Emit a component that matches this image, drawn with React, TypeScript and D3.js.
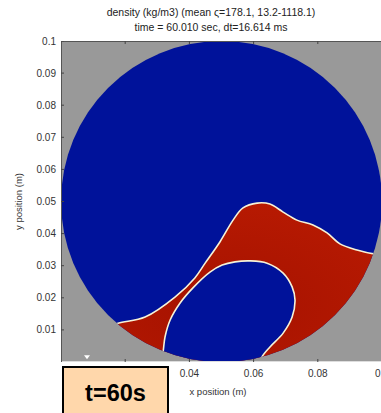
import React from "react";
import * as d3 from "d3";

const titleLines = [
  "density (kg/m3) (mean \u03C2=178.1, 13.2-1118.1)",
  "time = 60.010 sec, dt=16.614 ms",
];
const yTicks = [0.01, 0.02, 0.03, 0.04, 0.05, 0.06, 0.07, 0.08, 0.09, 0.1];
const yTickLabels = ["0.01", "0.02", "0.03", "0.04", "0.05", "0.06", "0.07", "0.08", "0.09", "0.1"];
const xTickMarks = [0.02, 0.04, 0.06, 0.08];
const xTicks = [0.04, 0.06, 0.08, 0.1];
const xTickLabels = ["0.04", "0.06", "0.08", "0.1"];
const domainCenter: [number, number] = [0.05, 0.05];
const domainRadius = 0.05;

// red (dense) fluid upper interface, left to right (m)
const upperInterface: [number, number][] = [
  [0.0137, 0.0106], [0.0178, 0.0121], [0.0262, 0.014], [0.0355, 0.0202],
  [0.0417, 0.0262], [0.0449, 0.0308], [0.0495, 0.0374], [0.0536, 0.0442],
  [0.0567, 0.048], [0.0611, 0.0495], [0.0651, 0.0492], [0.0692, 0.0467],
  [0.0735, 0.0442], [0.0785, 0.0427], [0.0829, 0.0402], [0.0869, 0.0368],
  [0.0922, 0.0349], [0.0978, 0.0336], [0.1031, 0.033],
];
// trapped light bubble near bottom (m)
const bubble: [number, number][] = [
  [0.0308, -0.0019], [0.0318, 0.0031], [0.0324, 0.0078], [0.034, 0.0131],
  [0.0371, 0.0184], [0.0411, 0.0231], [0.0464, 0.028], [0.0502, 0.0302],
  [0.0542, 0.0312], [0.0589, 0.0315], [0.0642, 0.0308], [0.0692, 0.0277],
  [0.072, 0.0234], [0.0729, 0.0193], [0.072, 0.014], [0.0692, 0.009],
  [0.0651, 0.0047], [0.0626, 0.0016], [0.0614, -0.0019],
];
const markerPoint: [number, number] = [0.0081, 0.0012];

export default function App() {
  const W = 381, H = 413;
  const x = d3.scaleLinear().domain([0, 0.1]).range([61, 382]);
  const y = d3.scaleLinear().domain([0, 0.1]).range([362, 41]);
  const font = "'Liberation Sans', Arial, sans-serif";

  const line = d3.line<[number, number]>().x(d => x(d[0])).y(d => y(d[1])).curve(d3.curveCatmullRom);
  const upperPath = line(upperInterface) as string;
  const redPath = upperPath + `L${x(0.11)},${y(-0.01)}L${x(0.0)},${y(-0.01)}L${x(0)},${y(0.0106)}Z`;
  const bubblePath = line(bubble) as string;
  const bubbleFill = bubblePath + `Z`;

  const cx = x(domainCenter[0]);
  const cy = y(domainCenter[1]);
  const r = x(domainRadius) - x(0);

  const mx = x(markerPoint[0]), my = y(markerPoint[1]);

  return (
    <svg width={W} height={H} style={{ position: "absolute", left: 0, top: 0 }}>
      <defs>
        <clipPath id="plotClip">
          <rect x={61} y={41} width={W - 61} height={321} />
        </clipPath>
        <clipPath id="circClip">
          <circle cx={cx} cy={cy} r={r} />
        </clipPath>
        <radialGradient id="redGrad" cx="0.45" cy="0.55" r="0.6">
          <stop offset="0" stopColor="#a51200" />
          <stop offset="1" stopColor="#b81a02" />
        </radialGradient>
      </defs>
      <rect x={0} y={0} width={W} height={H} fill="#fff" />
      {titleLines.map((t, i) => (
        <text key={i} x={211} y={16 + i * 15} textAnchor="middle" fontFamily={font} fontSize={10.5} fill="#222">
          {t}
        </text>
      ))}
      <g clipPath="url(#plotClip)">
        <rect x={61} y={41} width={W - 61} height={321} fill="#999999" />
        <circle cx={cx} cy={cy} r={r} fill="#00129a" />
        <g clipPath="url(#circClip)">
          <path d={redPath} fill="url(#redGrad)" />
          <path d={bubbleFill} fill="#00129a" />
          <path d={upperPath} fill="none" stroke="#f6f3d8" strokeWidth={1.6} />
          <path d={bubblePath} fill="none" stroke="#f6f3d8" strokeWidth={1.6} />
        </g>
        <path d={`M${mx - 3},${my - 3}L${mx + 3},${my - 3}L${mx},${my + 1}Z`} fill="#fff" />
        {/* frame */}
        <line x1={61} x2={W} y1={41.5} y2={41.5} stroke="#555" strokeWidth={1} />
        <line x1={61} x2={W} y1={361.5} y2={361.5} stroke="#ddd" strokeWidth={1} />
        <line x1={61.5} x2={61.5} y1={41} y2={362} stroke="#555" strokeWidth={1} />
        {yTicks.map((t, i) => (
          <line key={i} x1={61} x2={64} y1={y(t)} y2={y(t)} stroke="#444" />
        ))}
        {xTickMarks.map((t, i) => (
          <g key={i}>
            <line x1={x(t)} x2={x(t)} y1={41} y2={44} stroke="#444" />
            <line x1={x(t)} x2={x(t)} y1={359} y2={362} stroke="#444" />
          </g>
        ))}
      </g>
      {yTicks.map((t, i) => (
        <text key={i} x={56} y={y(t) + 3.5} textAnchor="end" fontFamily={font} fontSize={10} fill="#333">
          {yTickLabels[i]}
        </text>
      ))}
      {xTicks.map((t, i) => (
        <text key={i} x={x(t)} y={377} textAnchor="middle" fontFamily={font} fontSize={10} fill="#333">
          {xTickLabels[i]}
        </text>
      ))}
      <text x={218} y={395} textAnchor="middle" fontFamily={font} fontSize={9.5} fill="#333">
        x position (m)
      </text>
      <text
        transform={`translate(22,${cy}) rotate(-90)`}
        textAnchor="middle"
        fontFamily={font}
        fontSize={9.5}
        fill="#333"
      >
        y position (m)
      </text>
      <rect x={63} y={367} width={105} height={60} fill="#ffd7ab" stroke="#000" strokeWidth={2} />
      <text x={115.5} y={401} textAnchor="middle" fontFamily={font} fontWeight="bold" fontSize={23.5} fill="#000">
        t=60s
      </text>
    </svg>
  );
}
